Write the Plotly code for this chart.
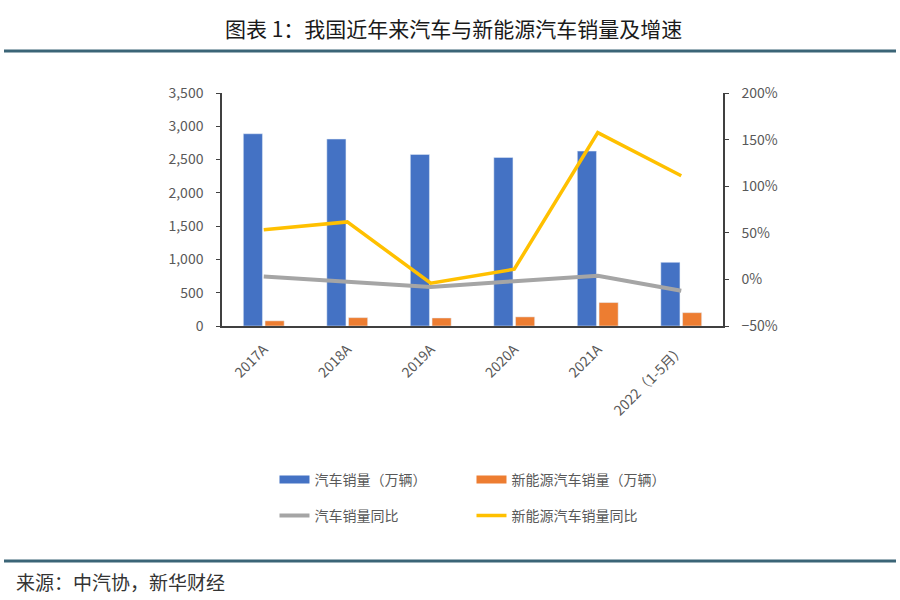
import plotly.graph_objects as go

categories = ["2017A", "2018A", "2019A", "2020A", "2021A", "2022（1-5月）"]
car_sales = [2888, 2808, 2577, 2531, 2627, 956]
nev_sales = [77.7, 125.6, 120.6, 136.7, 352.1, 200.3]
car_yoy = [0.030, -0.028, -0.082, -0.019, 0.038, -0.122]
nev_yoy = [0.533, 0.617, -0.040, 0.109, 1.575, 1.112]

names = ["汽车销量（万辆）", "新能源汽车销量（万辆）", "汽车销量同比", "新能源汽车销量同比"]
BLUE, ORANGE, GRAY, YELLOW = "#4472C4", "#ED7D31", "#A5A5A5", "#FFC000"
FONT = "Noto Sans CJK SC"
TXT = "#595959"

fig = go.Figure()
fig.add_bar(x=categories, y=car_sales, marker_color=BLUE, name=names[0], showlegend=False)
fig.add_bar(x=categories, y=nev_sales, marker_color=ORANGE, name=names[1], showlegend=False)
fig.add_scatter(x=categories, y=car_yoy, yaxis="y2", mode="lines",
                line=dict(color=GRAY, width=4), name=names[2], showlegend=False)
fig.add_scatter(x=categories, y=nev_yoy, yaxis="y2", mode="lines",
                line=dict(color=YELLOW, width=3.5), name=names[3], showlegend=False)

# legend entries (two rows, two columns)
for nm, col, w, lg in [(names[0], BLUE, 8, "legend"), (names[1], ORANGE, 8, "legend"),
                       (names[2], GRAY, 4, "legend2"), (names[3], YELLOW, 3.5, "legend2")]:
    fig.add_scatter(x=[None], y=[None], mode="lines", line=dict(color=col, width=w),
                    name=nm, legend=lg, showlegend=True)

axis_common = dict(showline=True, linecolor="#404040", linewidth=1.5, showgrid=False,
                   zeroline=False, ticks="outside", ticklen=4, tickcolor="#404040",
                   tickfont=dict(family=FONT, size=14, color=TXT))

leg_x = (280 - 222) / 501 - 0.011
fig.update_layout(
    width=900, height=600,
    paper_bgcolor="white", plot_bgcolor="white",
    margin=dict(l=222, r=177, t=93, b=274),
    barmode="group", bargap=0.48, bargroupgap=0.12,
    font=dict(family=FONT, color=TXT),
    xaxis=dict(showline=True, linecolor="#404040", linewidth=1.5, showgrid=False,
               ticks="", tickangle=-45, ticklabelstandoff=8,
               tickfont=dict(family=FONT, size=14, color=TXT)),
    yaxis=dict(range=[0, 3500], dtick=500, tickformat=",", ticklabelstandoff=10, **axis_common),
    yaxis2=dict(range=[-0.5, 2.0], dtick=0.5, tickformat=".0%", overlaying="y", side="right",
                ticklabelstandoff=10, **axis_common),
    legend=dict(orientation="h", x=leg_x, xanchor="left", y=1 - 480 / 600, yanchor="middle",
                xref="paper", yref="container", entrywidth=152, itemwidth=30,
                font=dict(family=FONT, size=14, color=TXT), bgcolor="rgba(0,0,0,0)"),
    legend2=dict(orientation="h", x=leg_x, xanchor="left", y=1 - 516 / 600, yanchor="middle",
                 xref="paper", yref="container", entrywidth=152, itemwidth=30,
                 font=dict(family=FONT, size=14, color=TXT), bgcolor="rgba(0,0,0,0)"),
)

fig.add_annotation(text="图表 1：我国近年来汽车与新能源汽车销量及增速", xref="paper", yref="paper",
                   x=(453 - 222) / 501, y=1 + (93 - 28) / 233, showarrow=False,
                   font=dict(family=FONT, size=21, color="#1a1a1a"), xanchor="center", yanchor="middle")
fig.add_annotation(text="来源：中汽协，新华财经", xref="paper", yref="paper",
                   x=(14 - 222) / 501, y=-(581 - 326) / 233, showarrow=False,
                   font=dict(family=FONT, size=19, color="#333333"), xanchor="left", yanchor="middle")
for yy in [51, 561]:
    fig.add_shape(type="line", xref="paper", yref="paper",
                  x0=(4 - 222) / 501, x1=(896 - 222) / 501,
                  y0=1 + (93 - yy) / 233, y1=1 + (93 - yy) / 233,
                  line=dict(color="#3B6577", width=3))

fig.write_html("out.html")
